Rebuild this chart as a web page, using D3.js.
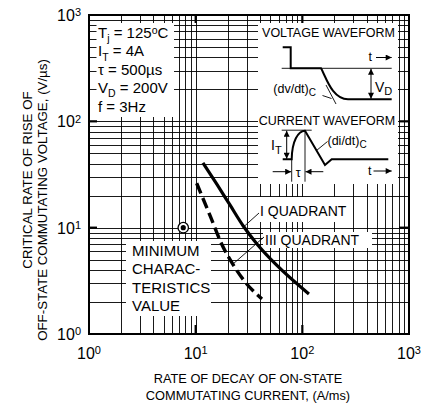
<!DOCTYPE html>
<html>
<head>
<meta charset="utf-8">
<script src="https://cdn.jsdelivr.net/npm/d3@7"></script>
<style>
body { margin: 0; background: #fff; }
svg text { font-family: "Liberation Sans", Arial, sans-serif; fill: #000; }
</style>
</head>
<body>
<svg id="chart" width="427" height="406"></svg>
<script>
// decade ticks
var xDecades = [1, 10, 100, 1000];
var yDecades = [1, 10, 100, 1000];
var xTickLabels = ["10^{0}", "10^{1}", "10^{2}", "10^{3}"];
var yTickLabels = ["10^{0}", "10^{1}", "10^{2}", "10^{3}"];

// I quadrant (solid): rate of decay (A/ms) vs critical dv/dt (V/us)
var quad1Rate = [11.7, 15.84, 20.97, 27.93, 37.54, 57.8, 115.3];
var quad1Dvdt = [40.6, 25.5, 16.35, 10.37, 7.03, 4.41, 2.38];
// III quadrant (dashed)
var quad3Rate = [10.22, 13.62, 17.52, 22.51, 29.61, 41.82];
var quad3Dvdt = [26.17, 13.03, 7.03, 4.46, 3.02, 2.135];
// minimum characteristics value point
var minRate = [7.65];
var minDvdt = [10];

var conditions = ["T_{j} = 125^{o}C", "I_{T} = 4A", "\u03c4 = 500\u00b5s", "V_{D} = 200V", "f = 3Hz"];
var minLabel = ["MINIMUM", "CHARAC-", "TERISTICS", "VALUE"];
var xTitle = ["RATE OF DECAY OF ON-STATE", "COMMUTATING CURRENT, (A/ms)"];
var yTitle = ["CRITICAL RATE OF RISE OF", "OFF-STATE COMMUTATING VOLTAGE, (V/\u00b5s)"];

var plot = { left: 89, right: 409, top: 15, bottom: 334 };

var svg = d3.select("#chart");
var x = d3.scaleLog().domain([1, 1000]).range([plot.left, plot.right]);
var y = d3.scaleLog().domain([1, 1000]).range([plot.bottom, plot.top]);

//
// rich:
//   append text with _{sub} and ^{sup} pieces as tspans
//
function rich(sel, str, size, subSize) {
    var parts = str.split(/(_\{[^}]*\}|\^\{[^}]*\})/).filter(function(p) { return p.length; });
    var shift = 0;
    subSize = subSize || size * 0.7;
    parts.forEach(function(p) {
        var target = 0, fs = size, txt = p;
        if (p[0] === "_") { target = size * 0.28; fs = subSize; txt = p.slice(2, -1); }
        else if (p[0] === "^") { target = -size * 0.3; fs = subSize; txt = p.slice(2, -1); }
        sel.append("tspan").attr("dy", target - shift).attr("font-size", fs).text(txt);
        shift = target;
    });
    return sel;
}

var defs = svg.append("defs");
defs.append("marker").attr("id", "arr")
    .attr("viewBox", "0 0 10 10").attr("refX", 10).attr("refY", 5)
    .attr("markerWidth", 7).attr("markerHeight", 6)
    .attr("markerUnits", "userSpaceOnUse")
    .attr("orient", "auto-start-reverse")
    .append("path").attr("d", "M0,0L10,5L0,10Z").attr("fill", "#000");

// grid
var grid = svg.append("g").attr("stroke", "#000").attr("stroke-width", 0.9);
grid.selectAll("line.v").data(x.ticks()).enter().append("line")
    .attr("x1", function(d) { return Math.round(x(d)) + 0.5; })
    .attr("x2", function(d) { return Math.round(x(d)) + 0.5; })
    .attr("y1", plot.top).attr("y2", plot.bottom);
grid.selectAll("line.h").data(y.ticks()).enter().append("line")
    .attr("y1", function(d) { return Math.round(y(d)) + 0.5; })
    .attr("y2", function(d) { return Math.round(y(d)) + 0.5; })
    .attr("x1", plot.left).attr("x2", plot.right);

// major inward ticks
var major = svg.append("g").attr("stroke", "#000").attr("stroke-width", 2.2);
[10, 100].forEach(function(d) {
    major.append("line").attr("x1", x(d)).attr("x2", x(d)).attr("y1", plot.bottom).attr("y2", plot.bottom - 9);
    major.append("line").attr("x1", x(d)).attr("x2", x(d)).attr("y1", plot.top).attr("y2", plot.top + 8);
    major.append("line").attr("y1", y(d)).attr("y2", y(d)).attr("x1", plot.left).attr("x2", plot.left + 8);
    major.append("line").attr("y1", y(d)).attr("y2", y(d)).attr("x1", plot.right).attr("x2", plot.right - 10);
});

// white label backgrounds
function whiteBox(x0, y0, x1, y1) {
    svg.append("rect").attr("x", x0).attr("y", y0)
        .attr("width", x1 - x0).attr("height", y1 - y0).attr("fill", "#fff");
}
whiteBox(96.5, 23, 174, 117);
whiteBox(258, 23, 398, 184);
whiteBox(126, 241, 211, 316);
whiteBox(258, 197, 348, 222);
whiteBox(263, 232, 372, 248);

// border
svg.append("rect").attr("x", plot.left).attr("y", plot.top)
    .attr("width", plot.right - plot.left).attr("height", plot.bottom - plot.top)
    .attr("fill", "none").attr("stroke", "#000").attr("stroke-width", 2);

// curves
var line = d3.line()
    .x(function(d) { return x(d[0]); })
    .y(function(d) { return y(d[1]); })
    .curve(d3.curveMonotoneX);
svg.append("path").attr("d", line(d3.zip(quad1Rate, quad1Dvdt)))
    .attr("fill", "none").attr("stroke", "#000").attr("stroke-width", 3.2);
svg.append("path").attr("d", line(d3.zip(quad3Rate, quad3Dvdt)))
    .attr("fill", "none").attr("stroke", "#000").attr("stroke-width", 3.4)
    .attr("stroke-dasharray", "11,5");

// minimum value marker
var mp = d3.zip(minRate, minDvdt);
svg.selectAll("circle.ring").data(mp).enter().append("circle")
    .attr("cx", function(d) { return x(d[0]); }).attr("cy", function(d) { return y(d[1]); })
    .attr("r", 5.2).attr("fill", "#fff").attr("stroke", "#000").attr("stroke-width", 1.3);
svg.selectAll("circle.dot").data(mp).enter().append("circle")
    .attr("cx", function(d) { return x(d[0]); }).attr("cy", function(d) { return y(d[1]); })
    .attr("r", 2.6).attr("fill", "#000");

// tick labels
xDecades.forEach(function(d, i) {
    rich(svg.append("text").attr("x", x(d)).attr("y", 359).attr("text-anchor", "middle"),
         xTickLabels[i], 16, 11);
});
yDecades.forEach(function(d, i) {
    rich(svg.append("text").attr("x", 81).attr("y", y(d) + 6).attr("text-anchor", "end"),
         yTickLabels[i], 16, 11);
});

// axis titles
xTitle.forEach(function(t, i) {
    svg.append("text").attr("x", 248).attr("y", 382.5 + i * 17.5)
        .attr("text-anchor", "middle").attr("font-size", 12.8).text(t);
});
var yTitleMid = [180, 200];
yTitle.forEach(function(t, i) {
    svg.append("text")
        .attr("transform", "translate(" + (31.5 + i * 15) + "," + yTitleMid[i] + ") rotate(-90)")
        .attr("text-anchor", "middle").attr("font-size", 13.3).text(t);
});

// condition list
conditions.forEach(function(t, i) {
    rich(svg.append("text").attr("x", 98).attr("y", 38 + i * 18.4), t, 15, 10.5);
});

// minimum label
minLabel.forEach(function(t, i) {
    svg.append("text").attr("x", 132).attr("y", 255.7 + i * 18.4)
        .attr("font-size", 15).text(t);
});

// quadrant labels with leaders
svg.append("text").attr("x", 260).attr("y", 216).attr("font-size", 14).text("I QUADRANT");
svg.append("text").attr("x", 265).attr("y", 244.5).attr("font-size", 14).text("III QUADRANT");
var lead = svg.append("g").attr("stroke", "#000").attr("stroke-width", 0.9);
lead.append("line").attr("x1", 259).attr("y1", 213).attr("x2", 244).attr("y2", 226.5);
lead.append("line").attr("x1", 264).attr("y1", 237).attr("x2", 233).attr("y2", 264);

//
// waveform inset (schematic, local coordinates)
//
var ins = svg.append("g").attr("transform", "translate(258,23)");
ins.append("text").attr("x", 70.5).attr("y", 14.3).attr("text-anchor", "middle")
    .attr("font-size", 12.5).text("VOLTAGE WAVEFORM");
ins.append("line").attr("x1", 23.7).attr("x2", 133.7).attr("y1", 45.3).attr("y2", 45.3)
    .attr("stroke", "#000").attr("stroke-width", 0.9);
ins.append("path")
    .attr("d", "M24.7,24.3H32.7V45.3H63C68,54 74,76.3 90,76.3H133.7")
    .attr("fill", "none").attr("stroke", "#000").attr("stroke-width", 2);
ins.append("text").attr("x", 110.5).attr("y", 38).attr("font-size", 12.5).text("t");
ins.append("line").attr("x1", 118).attr("x2", 133.7).attr("y1", 34.5).attr("y2", 34.5)
    .attr("stroke", "#000").attr("stroke-width", 1).attr("marker-end", "url(#arr)");
ins.append("line").attr("x1", 113).attr("x2", 113).attr("y1", 45.8).attr("y2", 75.8)
    .attr("stroke", "#000").attr("stroke-width", 1)
    .attr("marker-start", "url(#arr)").attr("marker-end", "url(#arr)");
rich(ins.append("text").attr("x", 117).attr("y", 68.5), "V_{D}", 14, 11);
rich(ins.append("text").attr("x", 15.3).attr("y", 69.5), "(dv/dt)_{C}", 12.5, 10);
ins.append("line").attr("x1", 68).attr("y1", 62).attr("x2", 78).attr("y2", 81)
    .attr("stroke", "#000").attr("stroke-width", 0.9);
ins.append("line").attr("x1", 64.5).attr("y1", 72.5).attr("x2", 73.5).attr("y2", 75.5)
    .attr("stroke", "#000").attr("stroke-width", 0.9);

ins.append("text").attr("x", 69).attr("y", 102).attr("text-anchor", "middle")
    .attr("font-size", 12.5).text("CURRENT WAVEFORM");
ins.append("line").attr("x1", 23.7).attr("x2", 53.7).attr("y1", 107.2).attr("y2", 107.2)
    .attr("stroke", "#000").attr("stroke-width", 0.9);
ins.append("path")
    .attr("d", "M24.7,136.3H33.7C34,118 40,108 47,107.7L67,142L73.7,136.3H130.3")
    .attr("fill", "none").attr("stroke", "#000").attr("stroke-width", 2);
ins.append("line").attr("x1", 28.7).attr("x2", 28.7).attr("y1", 107.7).attr("y2", 135.8)
    .attr("stroke", "#000").attr("stroke-width", 1)
    .attr("marker-start", "url(#arr)").attr("marker-end", "url(#arr)");
rich(ins.append("text").attr("x", 13).attr("y", 127), "I_{T}", 14, 11);
rich(ins.append("text").attr("x", 69.5).attr("y", 121.5), "(di/dt)_{C}", 12.5, 10);
ins.append("line").attr("x1", 69.5).attr("y1", 118.5).attr("x2", 58.5).attr("y2", 127.5)
    .attr("stroke", "#000").attr("stroke-width", 0.9);
ins.append("line").attr("x1", 33.7).attr("x2", 33.7).attr("y1", 136.3).attr("y2", 158.7)
    .attr("stroke", "#000").attr("stroke-width", 0.9);
ins.append("line").attr("x1", 47).attr("x2", 47).attr("y1", 107.7).attr("y2", 158.7)
    .attr("stroke", "#000").attr("stroke-width", 0.9);
ins.append("line").attr("x1", 14.7).attr("x2", 33.2).attr("y1", 148.7).attr("y2", 148.7)
    .attr("stroke", "#000").attr("stroke-width", 1).attr("marker-end", "url(#arr)");
ins.append("line").attr("x1", 65.3).attr("x2", 47.5).attr("y1", 148.7).attr("y2", 148.7)
    .attr("stroke", "#000").attr("stroke-width", 1).attr("marker-end", "url(#arr)");
ins.append("text").attr("x", 40.3).attr("y", 153.5).attr("text-anchor", "middle")
    .attr("font-size", 12.5).text("\u03c4");
ins.append("text").attr("x", 110).attr("y", 152).attr("font-size", 12.5).text("t");
ins.append("line").attr("x1", 115.5).attr("x2", 133.7).attr("y1", 148).attr("y2", 148)
    .attr("stroke", "#000").attr("stroke-width", 1).attr("marker-end", "url(#arr)");
</script>
</body>
</html>
